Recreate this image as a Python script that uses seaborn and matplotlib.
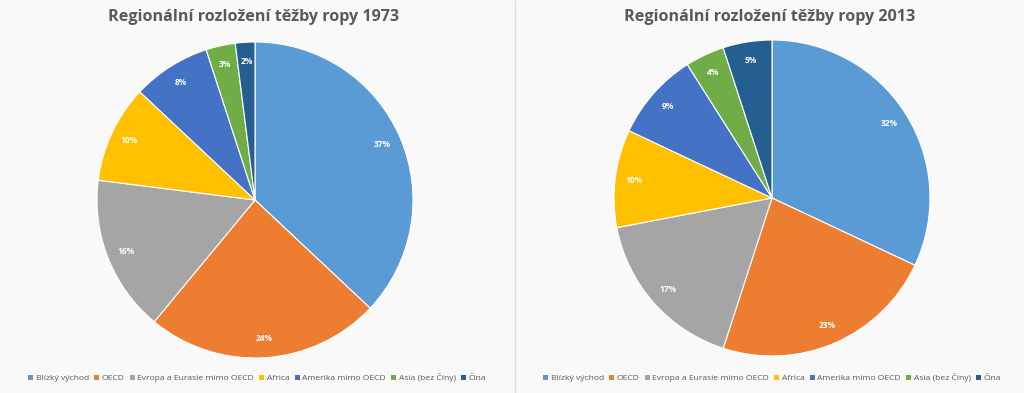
import matplotlib
matplotlib.use("Agg")
import matplotlib.pyplot as plt
import seaborn as sns
from matplotlib.patches import Patch
from matplotlib.lines import Line2D

categories = ["Blízký východ", "OECD", "Evropa a Eurasie mimo OECD", "Africa",
              "Amerika mimo OECD", "Asia (bez Číny)", "Čína"]
values_1973 = [37, 24, 16, 10, 8, 3, 2]
values_2013 = [32, 23, 17, 10, 9, 4, 5]
titles = ["Regionální rozložení těžby ropy 1973", "Regionální rozložení těžby ropy 2013"]

sns.set_style("white")
plt.rcParams['font.family'] = ['Open Sans', 'DejaVu Sans']
colors = sns.color_palette(["#5B9BD5", "#ED7D31", "#A5A5A5", "#FFC000",
                            "#4472C4", "#70AD47", "#255E91"])

W, H = 1024, 393
fig = plt.figure(figsize=(W / 100, H / 100), dpi=100)
fig.patch.set_facecolor("#f9f9f9")

def add_pie(cx, cy, r, vals, title, tx):
    ax = fig.add_axes([(cx - r) / W, 1 - (cy + r) / H, 2 * r / W, 2 * r / H])
    ax.pie(vals, colors=colors, startangle=90, counterclock=False,
           autopct=lambda p: f"{p:.0f}%", pctdistance=0.88,
           wedgeprops=dict(edgecolor="white", linewidth=0.8),
           textprops=dict(color="white", fontsize=6, fontweight="bold"))
    ax.set_xlim(-1, 1)
    ax.set_ylim(-1, 1)
    ax.set_aspect("auto")
    ax.axis("off")
    fig.text(tx / W, 1 - 17 / H, title, ha="center", va="center",
             fontsize=11.6, fontweight="bold", color="#595959")

add_pie(255, 200, 158, values_1973, titles[0], 254)
add_pie(772, 198, 158, values_2013, titles[1], 770)

handles = [Patch(facecolor=c, edgecolor="none") for c in colors]
for lx in (257, 772):
    fig.legend(handles, categories, loc="center", bbox_to_anchor=(lx / W, 1 - 378 / H),
               ncol=7, frameon=False, fontsize=6.1, handlelength=0.6, handleheight=0.6,
               handletextpad=0.3, columnspacing=0.6, labelcolor="#595959")

fig.add_artist(Line2D([515 / W, 515 / W], [0, 1], color="#e0e0e0", linewidth=1))

fig.savefig("out.png", dpi=100, facecolor=fig.get_facecolor())
